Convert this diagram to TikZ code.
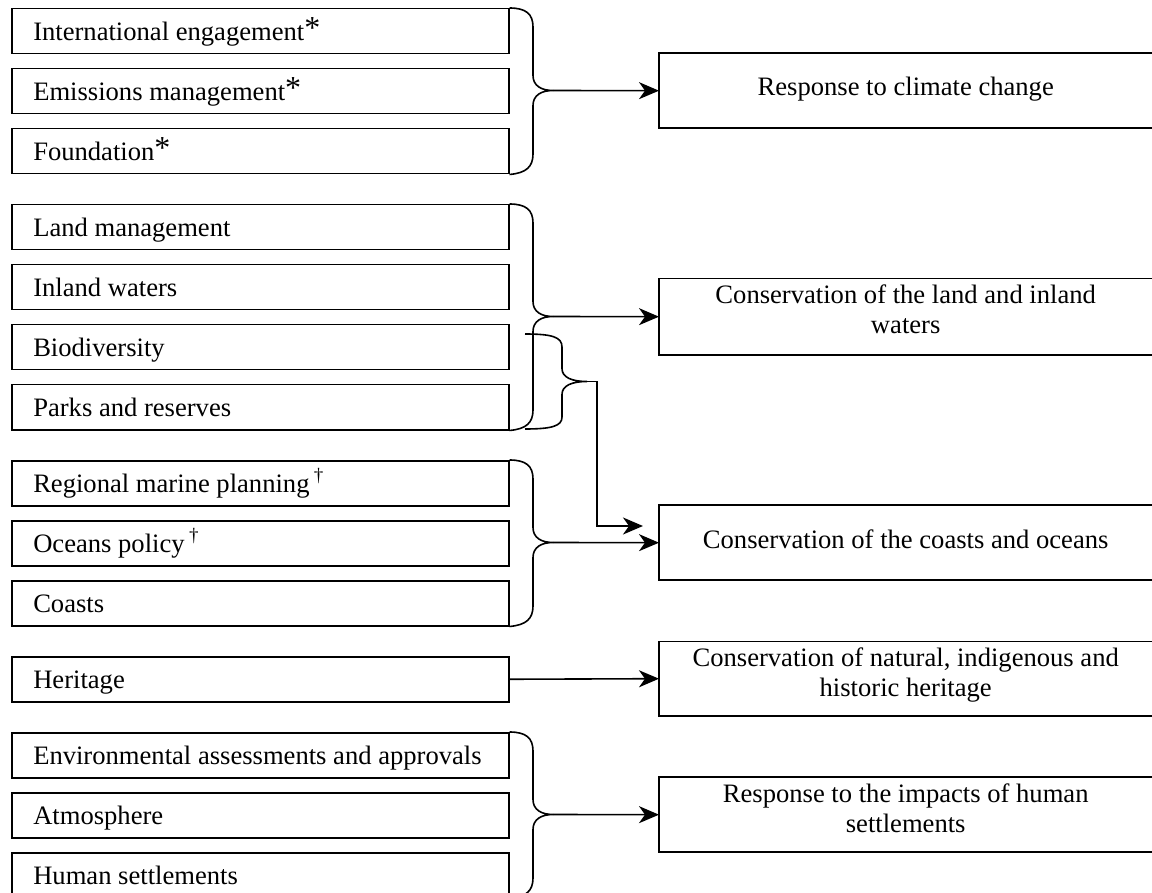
\documentclass[tikz,border=0pt]{standalone}
\usepackage{fontspec}
\setmainfont{Liberation Serif}
\usetikzlibrary{arrows.meta,calc}
\newcommand{\myast}{\raisebox{1.5pt}{\fontsize{32}{32}\selectfont *}}
\newcommand{\mydag}{\,\raisebox{11pt}{\fontsize{19}{19}\selectfont\textdagger}}
\newcommand{\srctxt}[1]{\makebox[454pt][l]{#1}}
\begin{document}
\begin{tikzpicture}[x=1pt,y=-1pt,
  every node/.style={font=\fontsize{26.6}{30}\selectfont},
  srcbox/.style={draw, line width=1.5pt, minimum width=497pt, minimum height=45pt,
    anchor=north west, inner xsep=21.5pt, inner ysep=0pt,
    text height=17.6pt, text depth=0pt},
  tgtbox/.style={draw=none, minimum width=493pt, anchor=north west, inner sep=0pt},
  tgtlabel/.style={anchor=base, inner sep=0pt},
  tgtline/.style={line width=1.9pt},
  conn/.style={line width=1.6pt},
  arr/.style={conn, -{Stealth[length=20pt,width=17pt,inset=6pt]}},
]
\useasboundingbox (0,0) rectangle (1152,893);

% ---------- source boxes ----------
\node[srcbox] (g1a) at (11,8)   {\srctxt{International engagement\myast}};
\node[srcbox] (g1b) at (11,68)  {\srctxt{Emissions management\myast}};
\node[srcbox] (g1c) at (11,128) {\srctxt{Foundation\myast}};

\node[srcbox] (g2a) at (11,204) {\srctxt{Land management}};
\node[srcbox] (g2b) at (11,264) {\srctxt{Inland waters}};
\node[srcbox] (g2c) at (11,324) {\srctxt{Biodiversity}};
\node[srcbox] (g2d) at (11,384) {\srctxt{Parks and reserves}};

\node[srcbox] (g3a) at (11,460) {\srctxt{Regional marine planning\mydag}};
\node[srcbox] (g3b) at (11,520) {\srctxt{Oceans policy\mydag}};
\node[srcbox] (g3c) at (11,580) {\srctxt{Coasts}};

\node[srcbox] (g4a) at (11,656) {\srctxt{Heritage}};

\node[srcbox] (g5a) at (11,732) {\srctxt{Environmental assessments and approvals}};
\node[srcbox] (g5b) at (11,792) {\srctxt{Atmosphere}};
\node[srcbox] (g5c) at (11,852) {\srctxt{Human settlements}};

% ---------- target boxes ----------
\node[tgtbox, minimum height=75pt] (t1) at (659,53) {};
\node[tgtbox, minimum height=76pt] (t2) at (659,278.5) {};
\node[tgtbox, minimum height=75pt] (t3) at (659,505) {};
\node[tgtbox, minimum height=74pt] (t4) at (659,641.5) {};
\node[tgtbox, minimum height=75pt] (t5) at (659,777) {};
\foreach \t in {t1,t2,t3,t4,t5}{
  \draw[tgtline] (\t.north west) rectangle ([xshift=12pt]\t.south east);
}
\node[tgtlabel] (l1) at ($(t1.north)+(0,43)$) {Response to climate change};
\node[tgtlabel] (l2) at ($(t2.north)+(0,25)$) {\begin{tabular}[t]{@{}c@{}}Conservation of the land and inland\\waters\end{tabular}};
\node[tgtlabel] (l3) at ($(t3.north)+(0,43)$) {Conservation of the coasts and oceans};
\node[tgtlabel] (l4) at ($(t4.north)+(0,25)$) {\begin{tabular}[t]{@{}c@{}}Conservation of natural, indigenous and\\historic heritage\end{tabular}};
\node[tgtlabel] (l5) at ($(t5.north)+(0,25)$) {\begin{tabular}[t]{@{}c@{}}Response to the impacts of human\\settlements\end{tabular}};

% ---------- braces ----------
\coordinate (b1) at (553,90.5);
\draw[conn] (g1a.north east) .. controls (526,8) and (533,14) .. (533,27)
  -- (533,75.5) .. controls (533,85.5) and (541,90.5) .. (b1)
  .. controls (541,90.5) and (533,95.5) .. (533,105.5)
  -- (533,154) .. controls (533,167) and (526,173) .. (g1c.south east);
\draw[arr] (b1) -- (t1.west);

\coordinate (b2) at (553,316.5);
\draw[conn] (g2a.north east) .. controls (526,204) and (533,210) .. (533,223)
  -- (533,301.5) .. controls (533,311.5) and (541,316.5) .. (b2)
  .. controls (541,316.5) and (533,321.5) .. (533,331.5)
  -- (533,410) .. controls (533,423) and (526,429) .. (g2d.south east);
\draw[arr] (b2) -- (t2.west);

% second brace (Biodiversity, Parks and reserves)
\coordinate (s2top) at (525,334);
\coordinate (s2bot) at (525,429);
\coordinate (b2s) at (587,381.5);
\coordinate (k2) at (597,381.5);
\coordinate (c3in) at (643,526);
\draw[conn] (s2top) .. controls (552,334) and (562,337) .. (562,347)
  -- (562,368.5) .. controls (562,377.5) and (572,381.5) .. (b2s)
  .. controls (572,381.5) and (562,385.5) .. (562,394.5)
  -- (562,417) .. controls (562,426) and (552,429) .. (s2bot);
\draw[arr] (b2s) -- (k2) |- (c3in);

\coordinate (b3) at (553,542.5);
\draw[conn] (g3a.north east) .. controls (526,460) and (533,466) .. (533,479)
  -- (533,527.5) .. controls (533,537.5) and (541,542.5) .. (b3)
  .. controls (541,542.5) and (533,547.5) .. (533,557.5)
  -- (533,606) .. controls (533,619) and (526,625) .. (g3c.south east);
\draw[arr] (b3) -- (t3.west);

\draw[arr] (g4a.east) -- (t4.west);

\coordinate (b5) at (553,814.5);
\draw[conn] (g5a.north east) .. controls (526,732) and (533,738) .. (533,751)
  -- (533,799.5) .. controls (533,809.5) and (541,814.5) .. (b5)
  .. controls (541,814.5) and (533,819.5) .. (533,829.5)
  -- (533,878) .. controls (533,891) and (526,897) .. (g5c.south east);
\draw[arr] (b5) -- (t5.west);
\end{tikzpicture}
\end{document}
